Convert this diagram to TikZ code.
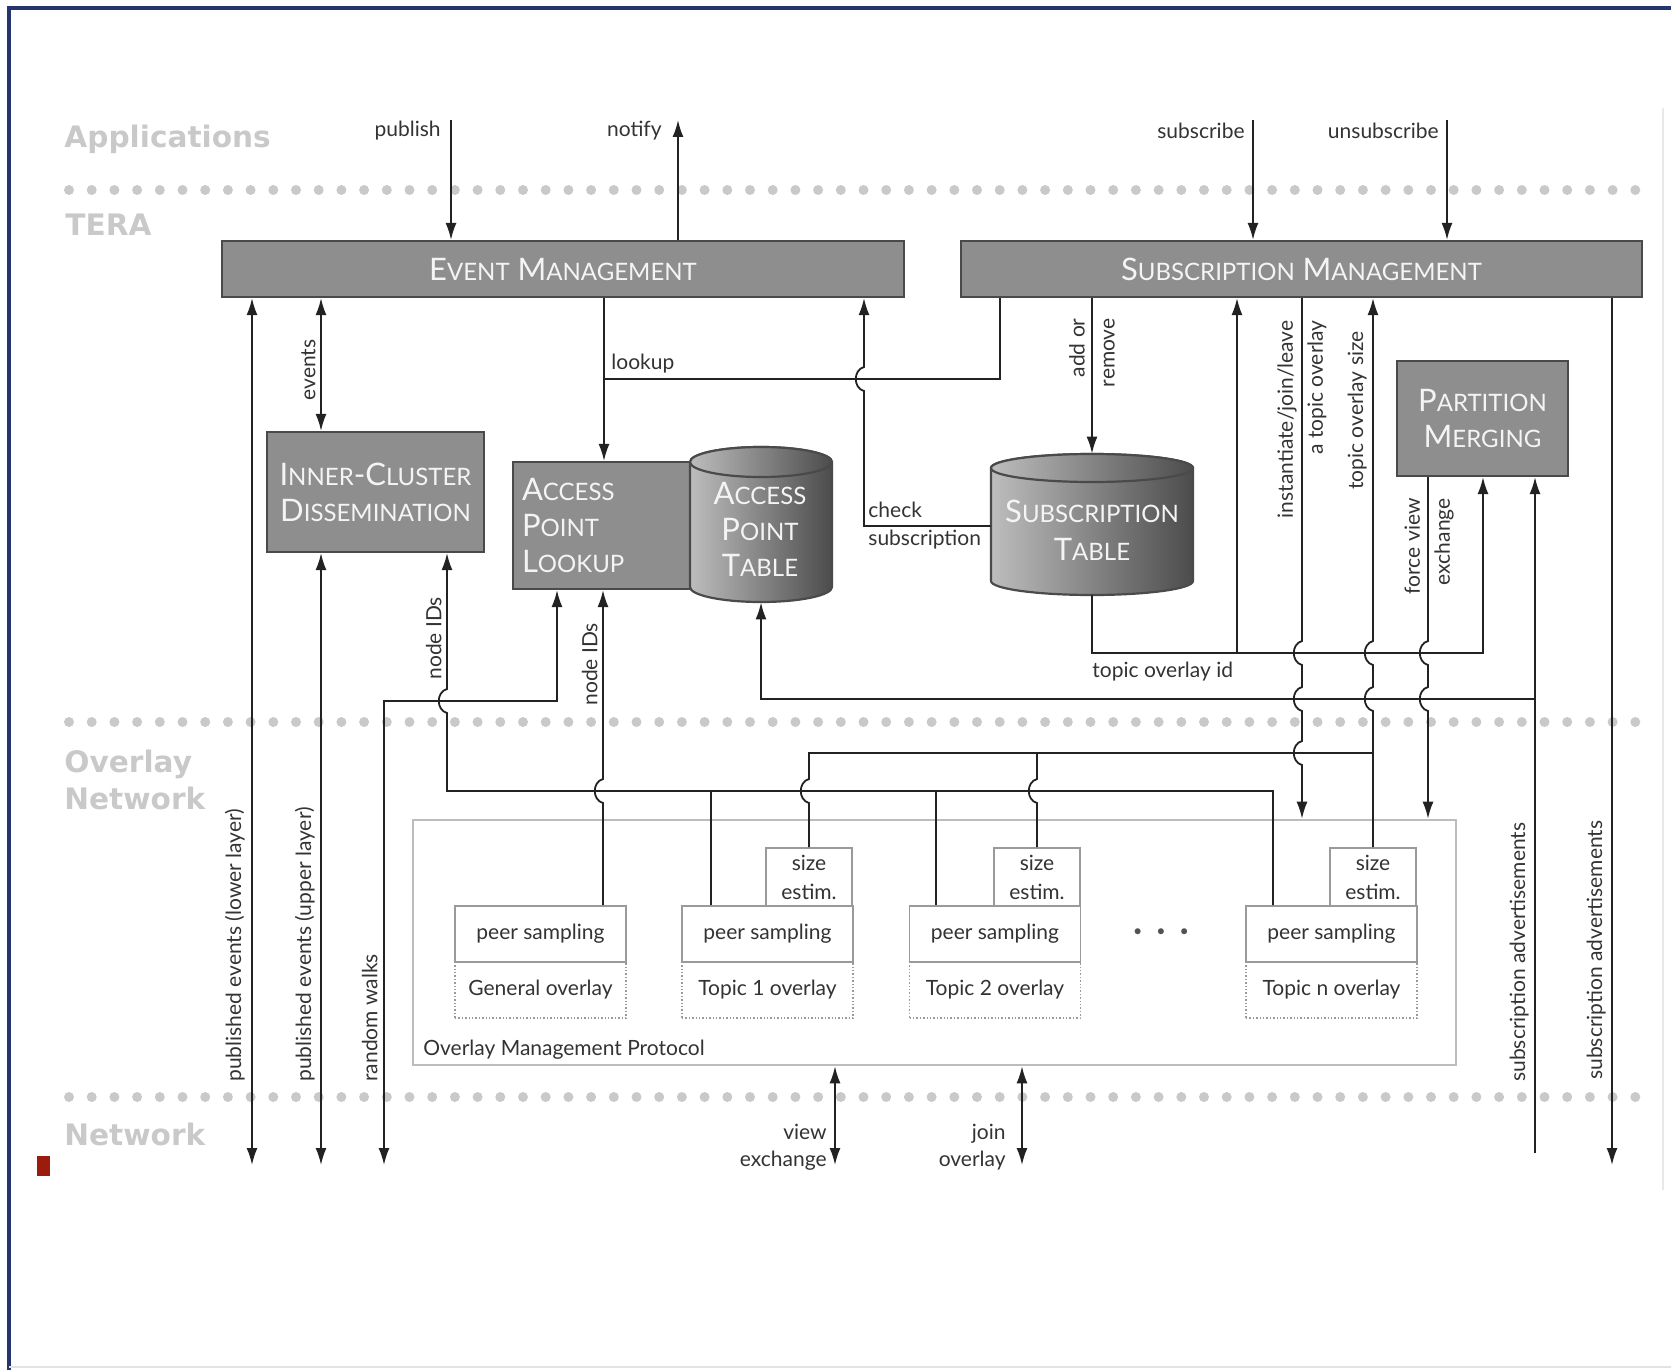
\documentclass[tikz,border=0pt]{standalone}
\usepackage{fontspec}
\setmainfont{Lato}
\newfontfamily\layerfont{DejaVu Sans}
\usetikzlibrary{arrows.meta}
\definecolor{navy}{HTML}{23356A}
\definecolor{layergray}{HTML}{C9C9C9}
\definecolor{boxfill}{HTML}{8E8E8E}
\definecolor{boxline}{HTML}{4A4A4A}
\definecolor{boxtext}{HTML}{F4F4F4}
\definecolor{linecol}{HTML}{222222}
\definecolor{txt}{HTML}{333333}
\definecolor{ompgray}{HTML}{BDBDBD}
\definecolor{psgray}{HTML}{9A9A9A}
\definecolor{cylL}{HTML}{BDBDBD}
\definecolor{cylM}{HTML}{8E8E8E}
\definecolor{cylR}{HTML}{4C4C4C}
\definecolor{redsq}{HTML}{9B1B0C}
\newcommand\SC[1]{{\fontsize{12pt}{18pt}\selectfont #1}}
\newcommand\jmpd[2]{-- ({#1},{#2-12}) .. controls ({#1-11},{#2-9}) and ({#1-11},{#2+9}) .. ({#1},{#2+12})}
\newcommand\jmpu[2]{-- ({#1},{#2+12}) .. controls ({#1-11},{#2+9}) and ({#1-11},{#2-9}) .. ({#1},{#2-12})}
\tikzset{
  conn/.style={draw=linecol, line width=0.9pt},
  mbox/.style={draw=boxline, fill=boxfill, line width=1.1pt, text=boxtext,
    font=\fontsize{15.5pt}{18pt}\selectfont, align=center, inner sep=0pt},
  cyltxt/.style={text=boxtext, font=\fontsize{15.5pt}{18pt}\selectfont, align=center, inner sep=0pt},
  inv/.style={inner sep=0pt},
  layerlab/.style={text=layergray, font=\layerfont\bfseries\fontsize{14.8pt}{18pt}\selectfont, anchor=base west, inner sep=0pt, align=left},
  lab/.style={text=txt, font=\fontsize{10.5pt}{13pt}\selectfont, inner sep=1pt},
  lab2/.style={text=txt, font=\fontsize{10.5pt}{15pt}\selectfont, inner sep=1pt},
  psbox/.style={draw=psgray, fill=white, line width=0.8pt, text=txt, font=\fontsize{10.5pt}{13pt}\selectfont,
    minimum width=85.5pt, minimum height=28pt, inner sep=0pt},
  ovbox/.style={draw=psgray, densely dotted, line width=0.7pt, text=txt, font=\fontsize{10.5pt}{13pt}\selectfont,
    minimum width=85.5pt, minimum height=28pt, inner sep=0pt},
  sebox/.style={draw=psgray, fill=white, line width=0.8pt, text=txt, font=\fontsize{10.5pt}{14.5pt}\selectfont,
    minimum width=43pt, minimum height=29pt, inner sep=0pt, align=center},
  layerdots/.style={draw=layergray, line width=5pt, line cap=round, dash pattern=on 0pt off 11.35pt}
}
\begin{document}
\begin{tikzpicture}[x=0.5pt, y=-0.5pt, >={Latex[length=8.5pt,width=5.5pt]}]
\useasboundingbox (0,0) rectangle (1671,1370);
% frame
\draw[navy, line width=2pt] (9,1370) -- (9,8) -- (1671,8);
\draw[gray!18, line width=0.6pt] (1663,108) -- (1663,1190);
\draw[gray!22, line width=1pt] (9,1367) -- (1671,1367);
\fill[redsq] (37,1156) rectangle (50,1176);

% layer separators
\draw[layerdots] (69,190) -- (1640,190);
\draw[layerdots] (69,722) -- (1640,722);
\draw[layerdots] (69,1097) -- (1640,1097);

% layer labels
\node[layerlab] (lapp) at (64,148) {Applications};
\node[layerlab] (ltera) at (65,235) {TERA};
\node[layerlab] (lovl) at (64,772) {Overlay};
\node[layerlab] (lonet) at (64,809) {Network};
\node[layerlab] (lnet) at (64,1145) {Network};

% main boxes
\node[mbox, minimum width=341pt, minimum height=28pt] (em) at (563,269) {E\SC{VENT} M\SC{ANAGEMENT}};
\node[mbox, minimum width=340.5pt, minimum height=28pt] (sm) at (1301.5,269) {S\SC{UBSCRIPTION} M\SC{ANAGEMENT}};
\node[mbox, minimum width=108.5pt, minimum height=60pt] (icd) at (375.5,492) {I\SC{NNER}-C\SC{LUSTER}\\D\SC{ISSEMINATION}};
\node[mbox, minimum width=93.5pt, minimum height=63.5pt, text width=84.5pt, align=left] (apl) at (606.5,525.5) {A\SC{CCESS}\\P\SC{OINT}\\L\SC{OOKUP}};
\node[mbox, minimum width=85.5pt, minimum height=57.5pt] (pm) at (1482.5,418.5) {P\SC{ARTITION}\\M\SC{ERGING}};

% access point table cylinder
\path[draw=boxline, line width=1.1pt, left color=cylL, middle color=cylM, right color=cylR]
  (690,462) -- (690,587) arc[start angle=180, end angle=360, x radius=35.5pt, y radius=7.5pt]
  -- (832,462) arc[start angle=0, end angle=180, x radius=35.5pt, y radius=7.5pt] -- cycle;
\path[draw=boxline, line width=1.1pt, left color=cylL, middle color=cylM, right color=cylR]
  (761,462) ellipse [x radius=35.5pt, y radius=7.5pt];
\node[inv, minimum width=71pt, minimum height=77.5pt] (apt) at (761,524.5) {};
\node[cyltxt] (apttxt) at (760,529) {A\SC{CCESS}\\P\SC{OINT}\\T\SC{ABLE}};

% subscription table cylinder
\path[draw=boxline, line width=1.1pt, left color=cylL, middle color=cylM, right color=cylR]
  (991,468) -- (991,581) arc[start angle=180, end angle=360, x radius=50.5pt, y radius=7pt]
  -- (1193,468) arc[start angle=0, end angle=180, x radius=50.5pt, y radius=7pt] -- cycle;
\path[draw=boxline, line width=1.1pt, left color=cylL, middle color=cylM, right color=cylR]
  (1092,468) ellipse [x radius=50.5pt, y radius=7pt];
\node[inv, minimum width=101pt, minimum height=70.5pt] (st) at (1092,524.5) {};
\node[cyltxt, font=\fontsize{15.5pt}{19pt}\selectfont] (sttxt) at (1092,530) {S\SC{UBSCRIPTION}\\T\SC{ABLE}};

% overlay management protocol
\node[draw=ompgray, line width=1.3pt, minimum width=521.5pt, minimum height=122.5pt, inner sep=0pt] (omp) at (934.5,942.5) {};
\node[lab, anchor=west] (omplab) at (421,1050) {Overlay Management Protocol};

\node[ovbox] (ov1) at (540.5,990) {General overlay};
\node[ovbox] (ov2) at (767.5,990) {Topic 1 overlay};
\node[ovbox] (ov3) at (995,990) {Topic 2 overlay};
\node[ovbox] (ov4) at (1331.5,990) {Topic n overlay};
\node[psbox] (ps1) at (540.5,934) {peer sampling};
\node[psbox] (ps2) at (767.5,934) {peer sampling};
\node[psbox] (ps3) at (995,934) {peer sampling};
\node[psbox] (ps4) at (1331.5,934) {peer sampling};
\node[sebox] (se2) at (809,877) {size\\estim.};
\node[sebox] (se3) at (1037,877) {size\\estim.};
\node[sebox] (se4) at (1373,877) {size\\estim.};
\node[text=txt!85, font=\fontsize{8pt}{10pt}\selectfont, inner sep=0pt] (dots) at (1161,933) {•\hspace{7pt}•\hspace{7pt}•};

% coordinates
\coordinate (pubT) at (451,120);
\coordinate (notT) at (678,120);
\coordinate (subT) at (1253,120);
\coordinate (unsT) at (1447,120);
\coordinate (nA) at (252,1165);
\coordinate (nB) at (321,1165);
\coordinate (nC) at (384,1165);
\coordinate (nV) at (835,1165);
\coordinate (nJ) at (1022,1165);
\coordinate (nS) at (1612,1165);
\coordinate (sadvEnd) at (1535,1153);
\coordinate (rwC) at (557,701);
\coordinate (h1L) at (447,791);
\coordinate (h1R) at (1273,791);
\coordinate (b1) at (711,791);
\coordinate (b2) at (936,791);
\coordinate (g1) at (603,791);
\coordinate (h2L) at (809,753);
\coordinate (h2R) at (1373,753);
\coordinate (instX) at (1302,800);
\coordinate (fvX) at (1428,800);
\coordinate (arX) at (1092,400);
\coordinate (lkC) at (604,379);
\coordinate (lkR) at (1000,379);
\coordinate (chC) at (864,526);
\coordinate (toL) at (1092,653);
\coordinate (toR) at (1483,653);
\coordinate (toB) at (1237,653);
\coordinate (apL) at (761,699);
\coordinate (apR) at (1535,699);

% top connectors
\draw[conn,->] (pubT) -- (pubT |- em.north);
\draw[conn,->] (notT |- em.north) -- (notT);
\draw[conn,->] (subT) -- (subT |- sm.north);
\draw[conn,->] (unsT) -- (unsT |- sm.north);

% left connectors
\draw[conn,<->] (em.south -| nA) -- (nA);
\draw[conn,<->] (em.south -| nB) -- (icd.north -| nB);
\draw[conn,<->] (icd.south -| nB) -- (nB);
\draw[conn,<->] (apl.south -| rwC) -- (rwC) -- (nC |- rwC) -- (nC);
\draw[conn,<-] (icd.south -| h1L) \jmpd{447}{701} -- (h1L) -- (h1R) -- (ps4.north -| h1R);
\draw[conn] (b1) -- (ps2.north -| b1);
\draw[conn] (b2) -- (ps3.north -| b2);
\draw[conn,->] (ps1.north -| g1) \jmpu{603}{791} -- (apl.south -| g1);

% size estimation
\draw[conn] (se2.north) \jmpu{809}{791} -- (h2L) -- (h2R);
\draw[conn] (se3.north) \jmpu{1037}{791} -- (se3.north |- h2L);
\draw[conn,<-] (sm.south -| h2R) \jmpd{1373}{653} \jmpd{1373}{699} -- (se4.north);

% instantiate / force view
\draw[conn,->] (sm.south -| instX) \jmpd{1302}{653} \jmpd{1302}{699} \jmpd{1302}{753} -- (omp.north -| instX);
\draw[conn,->] (pm.south -| fvX) \jmpd{1428}{653} \jmpd{1428}{699} -- (omp.north -| fvX);

% add or remove
\draw[conn,->] (sm.south -| arX) -- (st.north -| arX);

% lookup
\draw[conn,->] (em.south -| lkC) -- (apl.north -| lkC);
\draw[conn] (lkC) -- (lkR) -- (sm.south -| lkR);

% check subscription
\draw[conn,->] (st.west |- chC) -- (chC) \jmpu{864}{379} -- (em.south -| chC);

% topic overlay id
\draw[conn,->] (st.south -| toL) -- (toL) -- (toR) -- (pm.south -| toR);
\draw[conn,->] (toB) -- (sm.south -| toB);

% access point table / subscription advertisements
\draw[conn,<->] (apt.south) -- (apL) -- (apR) -- (pm.south -| apR);
\draw[conn] (apR) -- (sadvEnd);
\draw[conn,->] (sm.south -| nS) -- (nS);

% network
\draw[conn,<->] (omp.south -| nV) -- (nV);
\draw[conn,<->] (omp.south -| nJ) -- (nJ);

% labels
\node[lab, anchor=east] (lpub) at (443,131) {publish};
\node[lab, anchor=east] (lnot) at (664,131) {notify};
\node[lab, anchor=east] (lsub) at (1247,131) {subscribe};
\node[lab, anchor=east] (luns) at (1441,131) {unsubscribe};
\node[lab, rotate=90, anchor=south] (lev) at (318,370) {events};
\node[lab, anchor=south west] (llook) at (609,376) {lookup};
\node[lab, align=left, anchor=west, font=\fontsize{10.5pt}{14pt}\selectfont] (lcheck) at (866,526) {check\\subscription};
\node[lab2, rotate=90, align=right, anchor=east] (ladd) at (1092,316) {add or\\remove};
\node[lab2, rotate=90, align=right, anchor=east] (linst) at (1302,318) {instantiate/join/leave\\a topic overlay};
\node[lab, rotate=90, anchor=south east] (lsize) at (1369,329) {topic overlay size};
\node[lab2, rotate=90, align=right, anchor=east] (lforce) at (1429,496) {force view\\exchange};
\node[lab, anchor=north west] (ltoid) at (1090,660) {topic overlay id};
\node[lab, rotate=90, anchor=south west] (lpel) at (247,1084) {published events (lower layer)};
\node[lab, rotate=90, anchor=south west] (lpeu) at (317,1084) {published events (upper layer)};
\node[lab, rotate=90, anchor=south west] (lrw) at (380,1084) {random walks};
\node[lab, rotate=90, anchor=south west] (lnid1) at (444,682) {node IDs};
\node[lab, rotate=90, anchor=south west] (lnid2) at (600,708) {node IDs};
\node[lab, rotate=90, anchor=south west] (lsa1) at (1531,1084) {subscription advertisements};
\node[lab, rotate=90, anchor=south west] (lsa2) at (1608,1082) {subscription advertisements};
\node[lab, align=right, anchor=east, font=\fontsize{10.5pt}{13.5pt}\selectfont] (lview) at (829,1147) {view\\exchange};
\node[lab, align=right, anchor=east, font=\fontsize{10.5pt}{13.5pt}\selectfont] (ljoin) at (1008,1147) {join\\overlay};
\end{tikzpicture}
\end{document}
